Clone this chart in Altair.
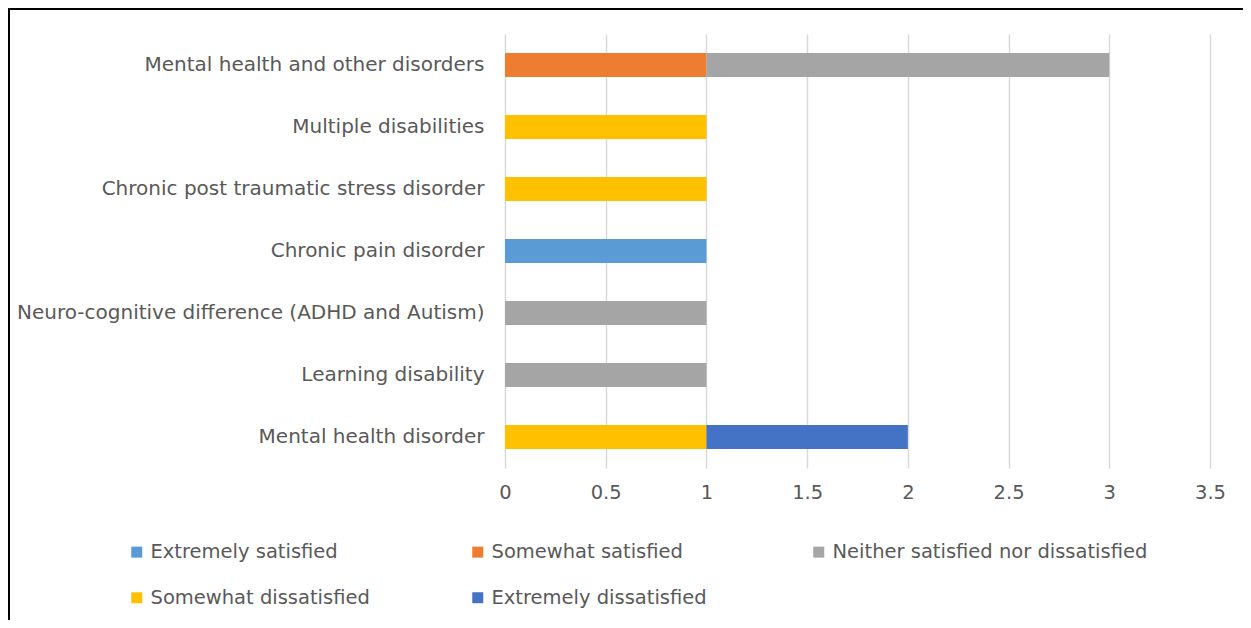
import altair as alt
import pandas as pd

categories = [
    "Mental health and other disorders",
    "Multiple disabilities",
    "Chronic post traumatic stress disorder",
    "Chronic pain disorder",
    "Neuro-cognitive difference (ADHD and Autism)",
    "Learning disability",
    "Mental health disorder",
]
series = [
    "Extremely satisfied",
    "Somewhat satisfied",
    "Neither satisfied nor dissatisfied",
    "Somewhat dissatisfied",
    "Extremely dissatisfied",
]
colors = ["#5B9BD5", "#ED7D31", "#A5A5A5", "#FFC000", "#4472C4"]

extremely_satisfied = [0, 0, 0, 1, 0, 0, 0]
somewhat_satisfied = [1, 0, 0, 0, 0, 0, 0]
neither = [2, 0, 0, 0, 1, 1, 0]
somewhat_dissatisfied = [0, 1, 1, 0, 0, 0, 1]
extremely_dissatisfied = [0, 0, 0, 0, 0, 0, 1]

x_ticks = [0, 0.5, 1, 1.5, 2, 2.5, 3, 3.5]

FONT = "DejaVu Sans"
TXT = "#595959"

rows = []
for si, (s, vals) in enumerate(zip(series, [extremely_satisfied, somewhat_satisfied, neither,
                                            somewhat_dissatisfied, extremely_dissatisfied])):
    for c, v in zip(categories, vals):
        if v:
            rows.append({"category": c, "series": s, "value": v, "order": si})
df = pd.DataFrame(rows)

bars = alt.Chart(df).mark_bar().encode(
    y=alt.Y(
        "category:N",
        sort=categories,
        scale=alt.Scale(paddingInner=0.613, paddingOuter=0.3065),
        axis=alt.Axis(title=None, domain=False, ticks=False, labelPadding=21,
                      labelFontSize=20, labelColor=TXT, labelFont=FONT, labelLimit=0),
    ),
    x=alt.X(
        "value:Q",
        stack="zero",
        scale=alt.Scale(domain=[0, 3.5], nice=False),
        axis=alt.Axis(values=x_ticks, format="~g", title=None, domain=False, ticks=False,
                      grid=True, gridColor="#D9D9D9", gridWidth=1.5, labelPadding=15,
                      labelFlush=False, labelFontSize=19.5, labelColor=TXT, labelFont=FONT),
    ),
    color=alt.Color(
        "series:N",
        sort=series,
        scale=alt.Scale(domain=series, range=colors),
        legend=alt.Legend(
            title=None, orient="none", legendX=-378, legendY=508, columns=3,
            direction="horizontal", gridAlign="all", columnPadding=2, rowPadding=25,
            symbolType="square", symbolSize=121, symbolStrokeWidth=0, labelOffset=4,
            labelFontSize=19.5, labelColor=TXT, labelFont=FONT, labelLimit=0, padding=0,
        ),
    ),
    order=alt.Order("order:Q", sort="ascending"),
)

dummy = pd.DataFrame({"k": [0]})
frame_top = alt.Chart(dummy).mark_rule(color="black", strokeWidth=2).encode(
    x=alt.value(-497), x2=alt.value(740), y=alt.value(-25)
)
frame_left = alt.Chart(dummy).mark_rule(color="black", strokeWidth=2).encode(
    x=alt.value(-496), y=alt.value(-26), y2=alt.value(600)
)

chart = alt.layer(bars, frame_top, frame_left).properties(
    width=705,
    height=434,
    background="white",
    autosize=alt.AutoSizeParams(type="none"),
    padding={"left": 497, "top": 26, "right": 33, "bottom": 152},
).configure_view(stroke=None)

chart.save("out.html", embed_options={"renderer": "svg", "actions": False})
